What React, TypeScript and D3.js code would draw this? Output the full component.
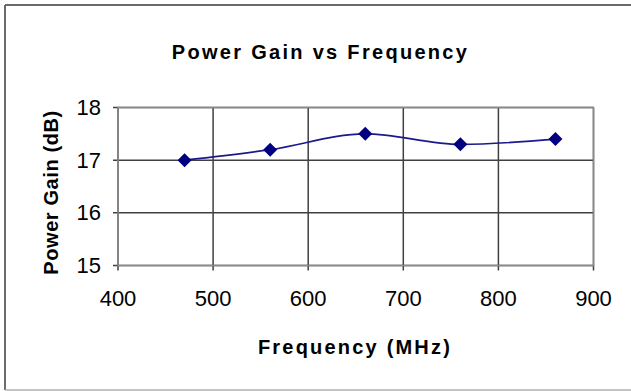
import React from "react";
import * as d3 from "d3";

const frequencies = [470, 560, 660, 760, 860];
const gains = [17.0, 17.2, 17.5, 17.3, 17.4];
const xTicks = [400, 500, 600, 700, 800, 900];
const yTicks = [15, 16, 17, 18];

const W = 631;
const H = 391;

export default function App() {
  const x = d3.scaleLinear().domain([400, 900]).range([118, 593.5]);
  const y = d3.scaleLinear().domain([15, 18]).range([265.5, 107.5]);
  const pts = frequencies.map((f, i) => [x(f), y(gains[i])] as [number, number]);
  const line = d3.line().curve(d3.curveMonotoneX)(pts) || "";
  const font = "Arial, 'Liberation Sans', sans-serif";
  const gridColor = "#404040";
  return (
    <svg
      width={W}
      height={H}
      style={{ position: "absolute", left: 0, top: 0 }}
      fontFamily={font}
    >
      <rect x={0} y={0} width={W} height={H} fill="#fff" />
      <line x1={5} y1={5} x2={W} y2={5} stroke="#6b6b6b" strokeWidth={2} />
      <line x1={5} y1={5} x2={5} y2={390} stroke="#6b6b6b" strokeWidth={2} />
      <line x1={5} y1={390} x2={W} y2={390} stroke="#b0b0b0" strokeWidth={1.5} />
      <text
        x={320.5}
        y={59}
        textAnchor="middle"
        fontSize={20}
        fontWeight="bold"
        letterSpacing={2.3}
      >
        Power Gain vs Frequency
      </text>
      {yTicks.map((t) => (
        <g key={"y" + t}>
          <line x1={113} x2={x(900)} y1={y(t)} y2={y(t)} stroke={gridColor} strokeWidth={1.5} />
          <text x={101} y={y(t) + 7.5} textAnchor="end" fontSize={22}>
            {t}
          </text>
        </g>
      ))}
      {xTicks.map((t) => (
        <g key={"x" + t}>
          <line x1={x(t)} x2={x(t)} y1={y(18)} y2={y(15) + 5} stroke={gridColor} strokeWidth={1.5} />
          <text x={x(t)} y={306} textAnchor="middle" fontSize={22}>
            {t}
          </text>
        </g>
      ))}
      <rect
        x={x(400)}
        y={y(18)}
        width={x(900) - x(400)}
        height={y(15) - y(18)}
        fill="none"
        stroke="#8a8a8a"
        strokeWidth={1.5}
      />
      <path d={line} fill="none" stroke="#1a1a8c" strokeWidth={1.6} />
      {pts.map(([px, py], i) => (
        <path
          key={"m" + i}
          d={`M${px},${py - 7}L${px + 7},${py}L${px},${py + 7}L${px - 7},${py}Z`}
          fill="#000080"
        />
      ))}
      <text
        x={355}
        y={354}
        textAnchor="middle"
        fontSize={20}
        fontWeight="bold"
        letterSpacing={2.2}
      >
        Frequency (MHz)
      </text>
      <text
        transform={`translate(58,${192.5}) rotate(-90)`}
        textAnchor="middle"
        fontSize={20}
        fontWeight="bold"
        letterSpacing={0.6}
      >
        Power Gain (dB)
      </text>
    </svg>
  );
}
